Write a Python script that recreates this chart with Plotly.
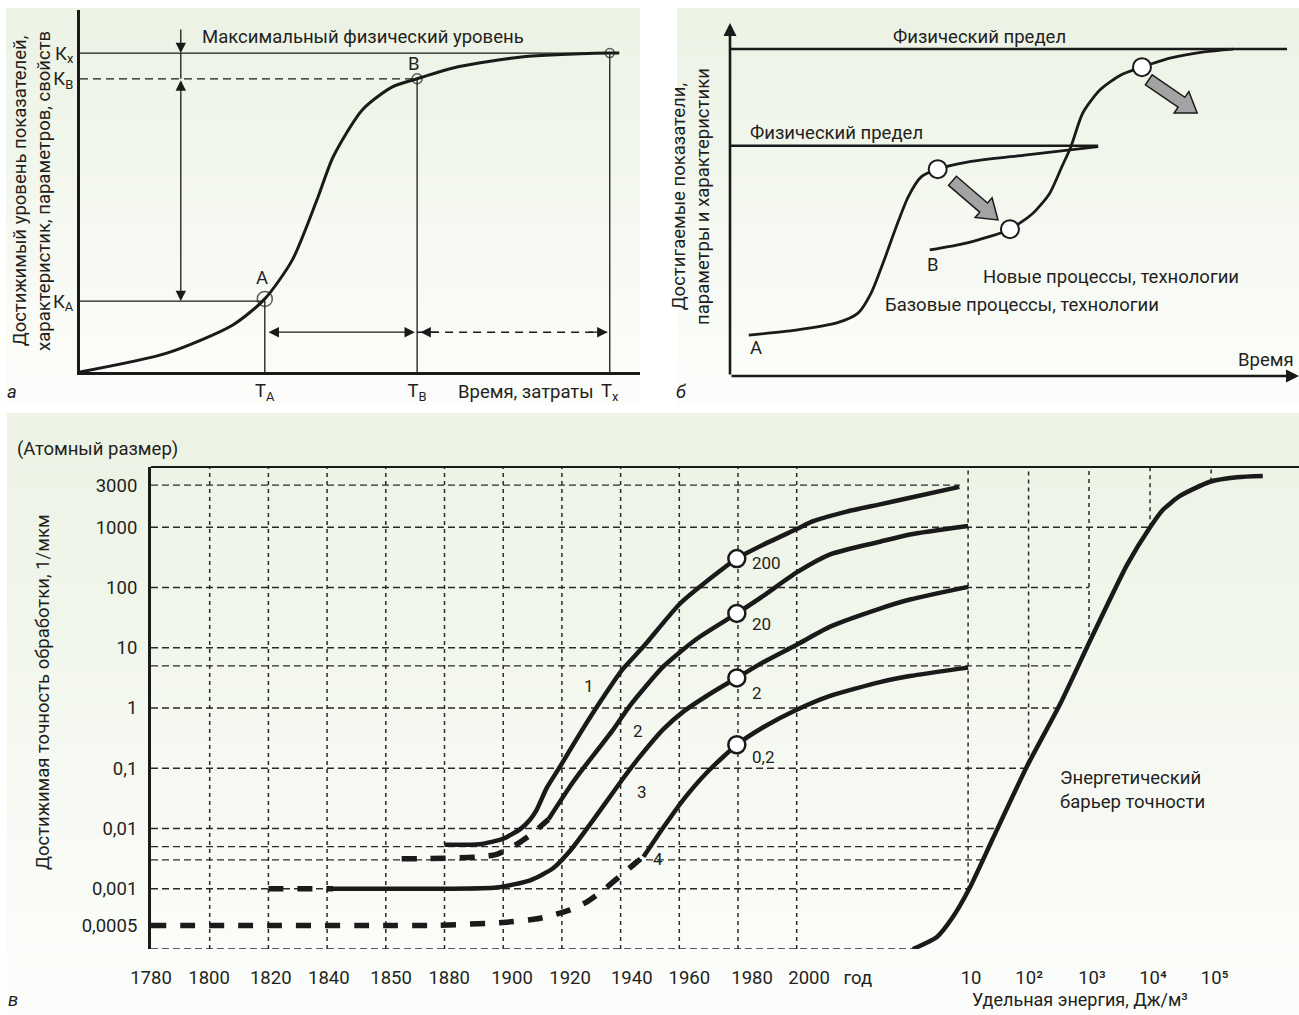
import numpy as np
import plotly.graph_objects as go

W, H = 1299, 1015
FONT = "Roboto"
FS = 18.5
TXT = "#231f20"
INK = "#1a1a1a"

# ---------------- Panel а : S-curve ----------------
a_time = [0.0, 1.55, 2.73, 3.30, 3.79, 4.23, 4.52, 5.04, 5.57, 6.02, 6.75, 7.88, 9.46, 9.63]
a_level = [0.0, 0.52, 1.30, 2.02, 3.09, 4.75, 5.94, 7.24, 7.87, 8.10, 8.43, 8.70, 8.81, 8.81]
T_A, T_B, T_X = 3.30, 6.02, 9.46
K_A, K_B, K_X = 1.96, 8.10, 8.81
a_xtick_text = ["Т<sub>А</sub>", "Т<sub>В</sub>", "Т<sub>х</sub>"]
a_ytick_text = ["К<sub>А</sub>", "К<sub>В</sub>", "К<sub>х</sub>"]
a_arrow_x = 1.8
a_arrow_top = 9.5
a_harrow_y = 1.1

# ---------------- Panel б : two S-curves ----------------
b_base_t = [0.33, 1.16, 1.89, 2.25, 2.48, 2.69, 2.92, 3.13, 3.36, 3.65, 4.17, 5.18, 6.47]
b_base_v = [1.16, 1.30, 1.51, 1.78, 2.35, 3.20, 4.22, 5.07, 5.64, 5.86, 6.06, 6.26, 6.50]
b_new_t = [3.51, 4.17, 4.92, 5.33, 5.62, 5.83, 5.99, 6.20, 6.50, 6.87, 7.24, 7.75, 8.33, 8.84]
b_new_v = [3.57, 3.77, 4.16, 4.62, 5.18, 5.92, 6.49, 7.45, 8.10, 8.53, 8.75, 9.01, 9.18, 9.26]
b_base_circle_idx = [9]
b_new_circle_idx = [2, 10]
b_limit_low, b_limit_low_end = 6.52, 6.47
b_limit_high, b_limit_high_end = 9.26, 9.79
b_arrows = [((3.91, 5.53), (4.71, 4.42)), ((7.36, 8.39), (8.21, 7.45))]

# ---------------- Panel в : accuracy vs. time / energy ----------------
year_labels = ["1780", "1800", "1820", "1840", "1850", "1880", "1900", "1920",
               "1940", "1960", "1980", "2000", "год"]
year_label_pos = [0.0, 0.99, 2.04, 3.03, 4.09, 5.08, 6.15, 7.14, 8.19, 9.17, 10.24, 11.21, 12.04]
year_grid_pos = [1, 2, 3, 4, 5, 6, 7, 8, 9, 10, 11]
energy_labels = ["10", "10²", "10³", "10⁴", "10⁵"]
energy_label_pos = [13.97, 14.96, 16.03, 17.07, 18.12]
energy_grid_pos = [13.92, 14.95, 15.98, 17.02, 18.06]
ytick_text = ["3000", "1000", "100", "10", "1", "0,1", "0,01", "0,001", "0,0005"]
ytick_pos = [3.7, 3, 2, 1, 0, -1, -2, -3, -3.61]
hgrid_pos = [3.7, 3, 2, 1, 0.7, 0, -1, -2, -2.3, -2.52, -3, -4]
hgrid_end = [13.78, 17.02, 15.98, 15.98, 15.74, 15.49, 14.97, 14.46, 14.29, 14.17, 13.92, 12.98]

c1_x = [5.0, 5.6, 6.0, 6.29, 6.46, 6.57, 6.74, 6.97, 7.31, 7.65, 8.02, 8.39, 9.01, 9.58, 9.98,
        10.43, 11.0, 11.28, 11.85, 12.42, 12.93, 13.77]
c1_y = [-2.27, -2.26, -2.17, -2.01, -1.85, -1.69, -1.33, -0.97, -0.42, 0.10, 0.625, 1.02, 1.73, 2.19, 2.48,
        2.71, 2.97, 3.10, 3.26, 3.38, 3.49, 3.67]
c1_dash_end = None
c2_x = [4.27, 4.75, 5.60, 5.89, 6.17, 6.46, 6.77, 7.14, 7.31, 7.88, 8.16, 8.73, 9.30, 9.98, 10.43,
        11.0, 11.57, 12.42, 12.93, 13.92]
c2_y = [-2.50, -2.50, -2.47, -2.43, -2.30, -2.11, -1.85, -1.30, -1.07, -0.35, 0.04, 0.69, 1.15, 1.57, 1.86,
        2.25, 2.55, 2.76, 2.88, 3.02]
c2_dash_end = 6.77
c3_x = [2.0, 3.1, 4.0, 5.0, 5.89, 6.46, 6.85, 7.14, 7.42, 7.71, 8.02, 8.30, 8.73, 9.07, 9.58, 9.98,
        10.43, 11.0, 11.57, 12.42, 12.93, 13.92]
c3_y = [-3.0, -3.0, -3.0, -3.0, -2.98, -2.86, -2.66, -2.37, -2.01, -1.62, -1.20, -0.84, -0.35, -0.06, 0.27, 0.50,
        0.76, 1.05, 1.35, 1.65, 1.80, 2.01]
c3_dash_end = 3.1
c4_x = [0.0, 2.0, 4.0, 4.75, 6.0, 6.63, 7.14, 7.42, 7.71, 7.99, 8.27, 8.39, 8.73, 9.07, 9.47, 9.98,
        10.43, 11.0, 11.57, 12.42, 12.93, 13.92]
c4_y = [-3.61, -3.61, -3.61, -3.61, -3.56, -3.49, -3.35, -3.22, -3.02, -2.79, -2.56, -2.47, -1.98, -1.52, -1.07, -0.61,
        -0.32, -0.03, 0.20, 0.43, 0.53, 0.67]
c4_dash_end = 8.39
energy_x = [12.98, 13.39, 13.66, 13.95, 14.34, 14.92, 15.49, 16.0, 16.63, 17.02, 17.24, 17.53, 18.04, 18.50, 18.94]
energy_y = [-4.0, -3.80, -3.47, -2.98, -2.17, -0.975, 0.07, 1.12, 2.38, 3.0, 3.29, 3.52, 3.755, 3.83, 3.85]
circle_slot = 9.98
circle_labels = ["200", "20", "2", "0,2"]
circle_label_y = [2.41, 1.40, 0.25, -0.81]
curve_numbers = ["1", "2", "3", "4"]
curve_number_x = [7.46, 8.30, 8.36, 8.64]
curve_number_y = [0.37, -0.38, -1.39, -2.50]

# ---------------- layout geometry (pixels) ----------------
A_L, A_R, A_T, A_B = 80, 640, 10, 372
B_L, B_R, B_T, B_B = 730, 1299, 23, 376
C_L, C_R, C_T, C_B = 151, 1299, 467, 949
C_SLOT = 58.7


def px(x):
    return x / W


def py(y):
    return 1 - y / H


fig = go.Figure()

# ---------- background gradients ----------
top_col = np.array([236, 243, 228])
bot_col = np.array([253, 254, 252])


def add_gradient(x0, x1, y0, y1, n=50):
    for i in range(n):
        t = (i + 0.5) / n
        c = top_col + (bot_col - top_col) * t
        ya = y0 + (y1 - y0) * i / n
        yb = y0 + (y1 - y0) * (i + 1) / n + 0.6
        fig.add_shape(type="rect", xref="paper", yref="paper", layer="below",
                      x0=px(x0), x1=px(x1), y0=py(yb), y1=py(ya),
                      fillcolor=f"rgb({int(c[0])},{int(c[1])},{int(c[2])})", line_width=0)


add_gradient(6, 640, 8, 405)
add_gradient(677, 1299, 8, 405)
add_gradient(7, 1299, 413, 1015)

tf = dict(family=FONT, size=FS, color=TXT)


def paper_text(x, y, text, angle=0, xanchor="center", align="center", size=FS):
    fig.add_annotation(x=px(x), y=py(y), xref="paper", yref="paper", text=text, textangle=angle,
                       xanchor=xanchor, yanchor="middle", align=align, showarrow=False,
                       font=dict(family=FONT, size=size, color=TXT))


# ================= Panel а =================
xa, ya = "x", "y"


def line_a(xs, ys, dash="solid", width=1.3):
    fig.add_trace(go.Scatter(x=xs, y=ys, mode="lines", xaxis=xa, yaxis=ya,
                             line=dict(color=INK, width=width, dash=dash), hoverinfo="skip"))


line_a([0, T_X], [K_X, K_X])
line_a([0, T_B], [K_B, K_B], dash="8px,5px")
line_a([0, T_A], [K_A, K_A])
line_a([T_A, T_A], [0, K_A])
line_a([T_B, T_B], [0, K_B])
line_a([T_X, T_X], [0, K_X])
line_a([a_arrow_x, a_arrow_x], [K_X, K_B])
line_a([T_B, T_X], [a_harrow_y, a_harrow_y], dash="8px,6px", width=1.5)
fig.add_trace(go.Scatter(x=a_time, y=a_level, mode="lines", xaxis=xa, yaxis=ya,
                         line=dict(color=INK, width=3, shape="spline", smoothing=0.7), hoverinfo="skip"))
fig.add_trace(go.Scatter(x=[T_A, T_B, T_X], y=[np.interp(T_A, a_time, a_level), K_B, K_X],
                         mode="markers", xaxis=xa, yaxis=ya,
                         marker=dict(symbol="circle-open", size=[15, 10, 9], color=INK, line=dict(width=1.5)),
                         hoverinfo="skip"))

arr = dict(showarrow=True, arrowhead=2, arrowsize=1.6, arrowwidth=1.3, arrowcolor=INK,
           text="", standoff=0, startstandoff=0)
fig.add_annotation(x=a_arrow_x, y=K_X, ax=a_arrow_x, ay=a_arrow_top, xref=xa, yref=ya, axref=xa, ayref=ya, **arr)
fig.add_annotation(x=a_arrow_x, y=K_A, ax=a_arrow_x, ay=K_B, xref=xa, yref=ya, axref=xa, ayref=ya,
                   arrowside="end+start", **arr)
fig.add_annotation(x=T_B - 0.04, y=a_harrow_y, ax=T_A + 0.04, ay=a_harrow_y, xref=xa, yref=ya, axref=xa, ayref=ya,
                   arrowside="end+start", **arr)
fig.add_annotation(x=T_X - 0.04, y=a_harrow_y, ax=T_X - 0.4, ay=a_harrow_y, xref=xa, yref=ya, axref=xa, ayref=ya, **arr)
fig.add_annotation(x=T_B + 0.06, y=a_harrow_y, ax=T_B + 0.4, ay=a_harrow_y, xref=xa, yref=ya, axref=xa, ayref=ya, **arr)

fig.add_annotation(x=2.14, y=9.25, xref=xa, yref=ya, text="Максимальный физический уровень",
                   showarrow=False, xanchor="left", font=tf)
fig.add_annotation(x=T_A - 0.05, y=2.6, xref=xa, yref=ya, text="А", showarrow=False, font=tf)
fig.add_annotation(x=T_B - 0.05, y=8.5, xref=xa, yref=ya, text="В", showarrow=False, font=tf)
paper_text(526, 392, "Время, затраты")
paper_text(32, 191, "Достижимый уровень показателей,<br>характеристик, параметров, свойств", angle=-90)
paper_text(12, 392, "<i>а</i>")

# ================= Panel б =================
xb, yb = "x2", "y2"
fig.add_trace(go.Scatter(x=[0, b_limit_low_end], y=[b_limit_low, b_limit_low], mode="lines", xaxis=xb, yaxis=yb,
                         line=dict(color=INK, width=2.5), hoverinfo="skip"))
fig.add_trace(go.Scatter(x=[0, b_limit_high_end], y=[b_limit_high, b_limit_high], mode="lines", xaxis=xb, yaxis=yb,
                         line=dict(color=INK, width=2.5), hoverinfo="skip"))
for tt, vv in ((b_base_t, b_base_v), (b_new_t, b_new_v)):
    fig.add_trace(go.Scatter(x=tt, y=vv, mode="lines", xaxis=xb, yaxis=yb,
                             line=dict(color=INK, width=2.8, shape="spline", smoothing=0.7), hoverinfo="skip"))

sxb = (B_R - B_L) / 10
syb = (B_B - B_T) / 10


def block_arrow(t, p, sx, sy, w1=6, w2=13, h=19):
    tx, ty = t[0] * sx, t[1] * sy
    qx, qy = p[0] * sx, p[1] * sy
    dx, dy = qx - tx, qy - ty
    L = np.hypot(dx, dy)
    ux, uy = dx / L, dy / L
    nx, ny = -uy, ux
    bx, by = qx - ux * h, qy - uy * h
    pts = [(tx + nx * w1, ty + ny * w1), (bx + nx * w1, by + ny * w1), (bx + nx * w2, by + ny * w2),
           (qx, qy), (bx - nx * w2, by - ny * w2), (bx - nx * w1, by - ny * w1), (tx - nx * w1, ty - ny * w1)]
    return "M " + " L ".join(f"{x / sx:.4f},{y / sy:.4f}" for x, y in pts) + " Z"


for t, p in b_arrows:
    fig.add_shape(type="path", xref=xb, yref=yb, path=block_arrow(t, p, sxb, syb),
                  fillcolor="#a3a3a3", line=dict(color=INK, width=1.5))

cx = [b_base_t[i] for i in b_base_circle_idx] + [b_new_t[i] for i in b_new_circle_idx]
cy = [b_base_v[i] for i in b_base_circle_idx] + [b_new_v[i] for i in b_new_circle_idx]
fig.add_trace(go.Scatter(x=cx, y=cy, mode="markers", xaxis=xb, yaxis=yb,
                         marker=dict(size=18, color="white", line=dict(color=INK, width=2)), hoverinfo="skip"))

barr = dict(showarrow=True, arrowhead=2, arrowsize=1.0, arrowwidth=2.6, arrowcolor=INK, text="",
            standoff=0, startstandoff=0)
fig.add_annotation(x=0, y=10, ax=0, ay=0, xref=xb, yref=yb, axref=xb, ayref=yb, **barr)
fig.add_annotation(x=10, y=0, ax=0, ay=0, xref=xb, yref=yb, axref=xb, ayref=yb, **barr)

fig.add_annotation(x=4.38, y=9.6, xref=xb, yref=yb, text="Физический предел", showarrow=False, font=tf)
fig.add_annotation(x=0.32, y=6.88, xref=xb, yref=yb, text="Физический предел", showarrow=False,
                   xanchor="left", font=tf)
fig.add_annotation(x=b_base_t[0] + 0.12, y=0.79, xref=xb, yref=yb, text="А", showarrow=False, font=tf)
fig.add_annotation(x=b_new_t[0] + 0.06, y=3.14, xref=xb, yref=yb, text="В", showarrow=False, font=tf)
fig.add_annotation(x=4.41, y=2.8, xref=xb, yref=yb, text="Новые процессы, технологии", showarrow=False,
                   xanchor="left", font=tf)
fig.add_annotation(x=2.69, y=2.01, xref=xb, yref=yb, text="Базовые процессы, технологии", showarrow=False,
                   xanchor="left", font=tf)
fig.add_annotation(x=9.95, y=0.45, xref=xb, yref=yb, text="Время", showarrow=False, xanchor="right", font=tf)
paper_text(691, 197, "Достигаемые показатели,<br>параметры и характеристики", angle=-90)
paper_text(681, 392, "<i>б</i>")

# ================= Panel в =================
xc, yc = "x3", "y3"
GRID = "#2a2a2a"
for yv, xe in zip(hgrid_pos, hgrid_end):
    fig.add_shape(type="line", xref=xc, yref=yc, x0=0, x1=xe, y0=yv, y1=yv, layer="below",
                  line=dict(color=GRID, width=1.3, dash="7px,4px"))
for xv in year_grid_pos:
    fig.add_shape(type="line", xref=xc, yref=yc, x0=xv, x1=xv, y0=-4, y1=4, layer="below",
                  line=dict(color=GRID, width=1.5, dash="4px,4px"))
for xv in energy_grid_pos:
    fig.add_shape(type="line", xref=xc, yref=yc, x0=xv, x1=xv, y0=float(np.interp(xv, energy_x, energy_y)), y1=4,
                  layer="below", line=dict(color=GRID, width=1.5, dash="4px,4px"))
fig.add_shape(type="line", xref="x3 domain", yref="y3 domain", x0=0, x1=1, y0=1, y1=1,
              line=dict(color=INK, width=2))

curves = [(c1_x, c1_y, c1_dash_end), (c2_x, c2_y, c2_dash_end), (c3_x, c3_y, c3_dash_end), (c4_x, c4_y, c4_dash_end)]
for cxs, cys, dend in curves:
    cxs = np.array(cxs)
    cys = np.array(cys)
    if dend is not None:
        m = cxs <= dend
        fig.add_trace(go.Scatter(x=cxs[m], y=cys[m], mode="lines", xaxis=xc, yaxis=yc,
                                 line=dict(color=INK, width=5.5, dash="15px,14px", shape="spline", smoothing=0.6),
                                 hoverinfo="skip"))
        m2 = cxs >= dend
    else:
        m2 = np.ones(len(cxs), bool)
    fig.add_trace(go.Scatter(x=cxs[m2], y=cys[m2], mode="lines", xaxis=xc, yaxis=yc,
                             line=dict(color=INK, width=4.5, shape="spline", smoothing=0.6), hoverinfo="skip"))

fig.add_trace(go.Scatter(x=energy_x, y=energy_y, mode="lines", xaxis=xc, yaxis=yc,
                         line=dict(color=INK, width=4.5, shape="spline", smoothing=0.6), hoverinfo="skip"))

circ_y = [float(np.interp(circle_slot, c[0], c[1])) for c in curves]
fig.add_trace(go.Scatter(x=[circle_slot] * 4, y=circ_y, mode="markers", xaxis=xc, yaxis=yc,
                         marker=dict(size=17, color="white", line=dict(color=INK, width=2.5)),
                         hoverinfo="skip", cliponaxis=False))
for lab, yv in zip(circle_labels, circle_label_y):
    fig.add_annotation(x=circle_slot + 0.22, y=yv, xref=xc, yref=yc, text=lab, showarrow=False,
                       xanchor="left", font=dict(family=FONT, size=17, color=TXT))
for lab, xv, yv in zip(curve_numbers, curve_number_x, curve_number_y):
    fig.add_annotation(x=xv, y=yv, xref=xc, yref=yc, text=lab, showarrow=False,
                       font=dict(family=FONT, size=17, color=TXT))
fig.add_annotation(x=15.45, y=-1.36, xref=xc, yref=yc, text="Энергетический<br>барьер точности",
                   showarrow=False, xanchor="left", align="left", font=tf)
paper_text(970, 999, "Удельная энергия, Дж/м³", xanchor="left", size=18)
paper_text(15, 449, "(Атомный размер)", xanchor="left")
paper_text(43, 692, "Достижимая точность обработки, 1/мкм", angle=-90)
paper_text(13, 1000, "<i>в</i>")

# ---------------- axes ----------------
common = dict(showgrid=False, zeroline=False, ticks="", fixedrange=True, automargin=False)
fig.update_layout(
    width=W, height=H, margin=dict(l=0, r=0, t=0, b=0, pad=0, autoexpand=False),
    paper_bgcolor="white", plot_bgcolor="rgba(0,0,0,0)", showlegend=False,
    font=dict(family=FONT, size=FS, color=TXT),
    xaxis=dict(domain=[px(A_L), px(A_R)], range=[0, 10], showline=True, linewidth=3, linecolor=INK,
               tickvals=[T_A, T_B, T_X], ticktext=a_xtick_text, tickfont=tf, ticklabelstandoff=0, **common),
    yaxis=dict(domain=[py(A_B), py(A_T)], range=[0, 10], showline=True, linewidth=3, linecolor=INK,
               tickvals=[K_A, K_B, K_X], ticktext=a_ytick_text, tickfont=tf, ticklabelstandoff=0, **common),
    xaxis2=dict(domain=[px(B_L), px(B_R)], range=[0, 10], showline=False, showticklabels=False,
                anchor="y2", **common),
    yaxis2=dict(domain=[py(B_B), py(B_T)], range=[0, 10], showline=False, showticklabels=False,
                anchor="x2", **common),
    xaxis3=dict(domain=[px(C_L), px(C_R)], range=[0, (C_R - C_L) / C_SLOT], showline=False,
                tickvals=year_label_pos + energy_label_pos, ticktext=year_labels + energy_labels,
                tickfont=tf, ticklabelstandoff=15, anchor="y3", **common),
    yaxis3=dict(domain=[py(C_B), py(C_T)], range=[-4, 4], showline=True, linewidth=3, linecolor=INK,
                tickvals=ytick_pos, ticktext=ytick_text, tickfont=tf, ticklabelstandoff=7,
                anchor="x3", **common),
)

fig.write_html("out.html", config={"displayModeBar": False},
               post_script="document.body.style.margin='0px';document.body.style.overflow='hidden';")
